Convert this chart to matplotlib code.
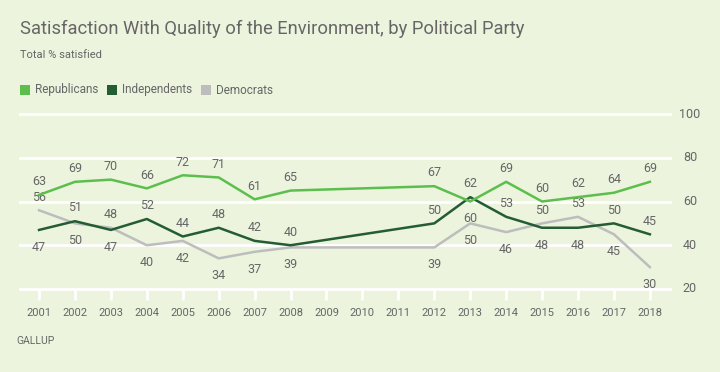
import matplotlib
matplotlib.use("Agg")
import matplotlib.pyplot as plt
from matplotlib.patches import Rectangle

years = [2001, 2002, 2003, 2004, 2005, 2006, 2007, 2008, 2012, 2013, 2014, 2015, 2016, 2017, 2018]
republicans = [63, 69, 70, 66, 72, 71, 61, 65, 67, 60, 69, 60, 62, 64, 69]
independents = [47, 51, 47, 52, 44, 48, 42, 40, 50, 62, 53, 48, 48, 50, 45]
democrats = [56, 50, 48, 40, 42, 34, 37, 39, 39, 50, 46, 50, 53, 45, 30]
all_years = list(range(2001, 2019))
yticks = [20, 40, 60, 80, 100]

plt.rcParams['font.family'] = ['Roboto', 'DejaVu Sans']

bg = "#ECF4DE"
c_rep = "#5CBF4D"
c_ind = "#245C33"
c_dem = "#BDBDBD"
txt = "#666666"

W, H = 720, 372
fig = plt.figure(figsize=(7.2, 3.72), dpi=100, facecolor=bg)
ax = fig.add_axes([20 / W, 1 - 289 / H, 650 / W, 175 / H])
ax.set_facecolor(bg)
ax.set_xlim(2000.47, 2018.56)
ax.set_ylim(20, 100)
for s in ax.spines.values():
    s.set_visible(False)

for yv in yticks:
    ax.axhline(yv, color="white", lw=2, zorder=1, clip_on=False)

ax.set_xticks(all_years)
ax.set_xticklabels([str(y) for y in all_years], fontsize=8, color=txt)
ax.tick_params(axis="x", length=8, width=2, color="white", pad=6, direction="out")
ax.set_yticks([])
for yv in yticks:
    ax.text(1.0 + 20 / 650, yv, str(yv), transform=ax.get_yaxis_transform(),
            fontsize=9, color=txt, ha="center", va="center")

ax.plot(years, democrats, color=c_dem, lw=1.8, zorder=3, clip_on=False)
ax.plot(years, independents, color=c_ind, lw=1.8, zorder=4, clip_on=False)
ax.plot(years, republicans, color=c_rep, lw=1.8, zorder=5, clip_on=False)

UP, DOWN = 9.5, -12.5


def lab(yr, v, dy):
    ax.annotate(str(v), (yr, v), xytext=(0, dy), textcoords="offset points",
                ha="center", va="center", fontsize=9, color=txt)


for i, yr in enumerate(years):
    r, ind, d = republicans[i], independents[i], democrats[i]
    if ind > r:
        lab(yr, ind, UP)
        lab(yr, r, DOWN)
        lab(yr, d, DOWN)
        continue
    lab(yr, r, UP)
    hi, lo = (ind, d) if ind >= d else (d, ind)
    lab(yr, hi, UP)
    lab(yr, lo, DOWN)

fig.text(20 / W, 1 - 28.5 / H, "Satisfaction With Quality of the Environment, by Political Party",
         fontsize=13.2, color=txt, ha="left", va="center")
fig.text(20 / W, 1 - 55 / H, "Total % satisfied", fontsize=8, color=txt, ha="left", va="center")

legend_items = [("Republicans", c_rep, 20), ("Independents", c_ind, 107), ("Democrats", c_dem, 201)]
for name, col, x0 in legend_items:
    fig.patches.append(Rectangle((x0 / W, 1 - 95 / H), 10 / W, 10 / H, transform=fig.transFigure,
                                 facecolor=col, edgecolor="none"))
    fig.text((x0 + 15) / W, 1 - 90 / H, name, fontsize=8.5, color=txt, ha="left", va="center")

fig.text(16 / W, 1 - 341 / H, "GALLUP", fontsize=7.5, color=txt, ha="left", va="center")

fig.savefig("out.png", dpi=100, facecolor=bg)
